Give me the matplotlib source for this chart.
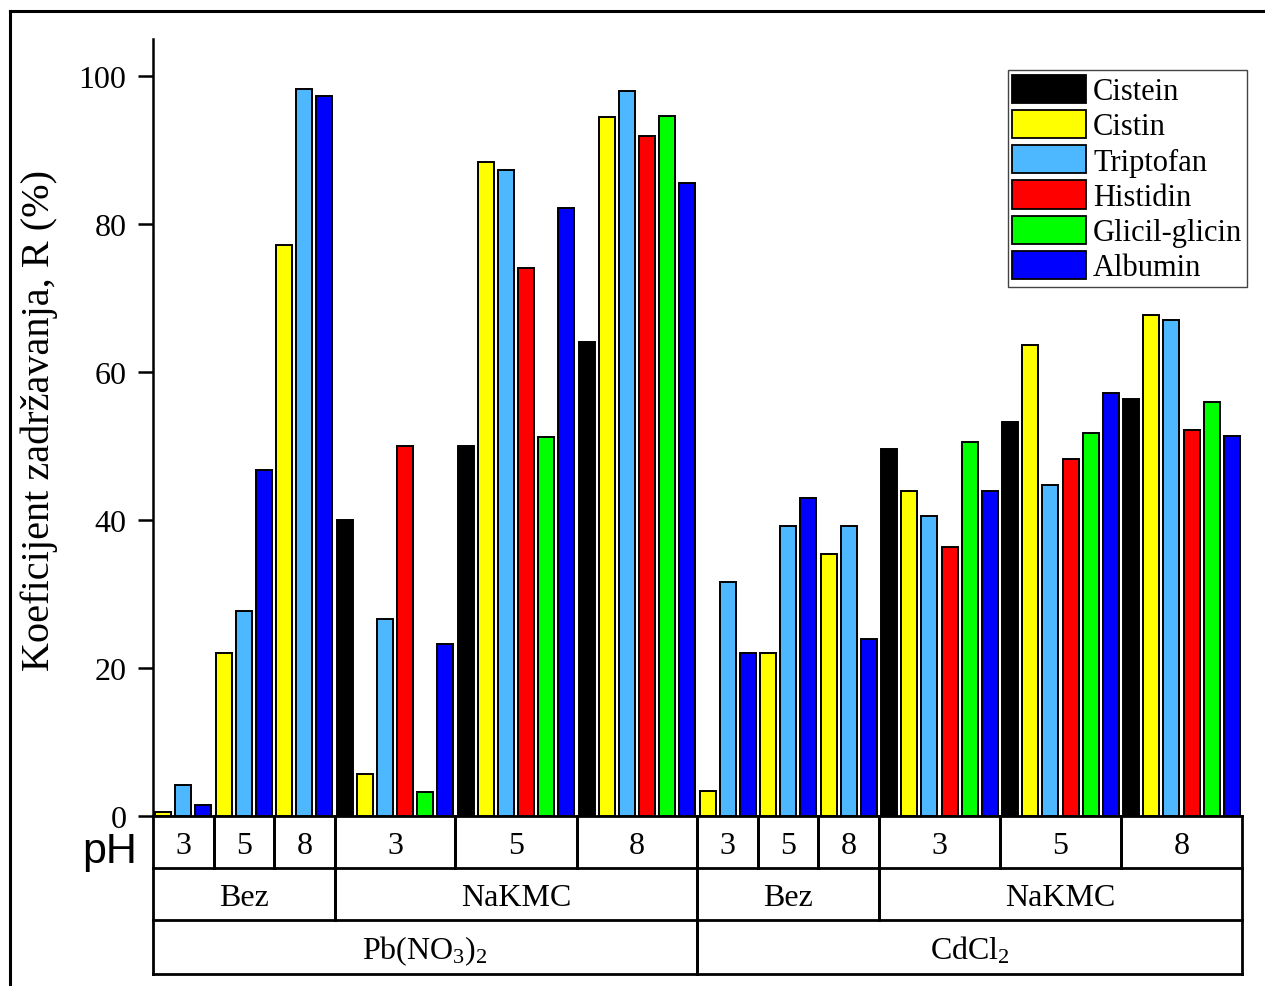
import matplotlib
matplotlib.use('Agg')
import matplotlib.pyplot as plt
from matplotlib.patches import Patch
from matplotlib.lines import Line2D

# --- data ---
series = ['Cistein', 'Cistin', 'Triptofan', 'Histidin', 'Glicil-glicin', 'Albumin']
colors = ['#000000', '#ffff00', '#4db8ff', '#ff0000', '#00ff00', '#0000ff']
bez_series = ['Cistin', 'Triptofan', 'Albumin']

ph_levels = ['3', '5', '8']
additives = ['Bez', 'NaKMC']
salts = [r'Pb(NO$_3$)$_2$', r'CdCl$_2$']

# rows: pH 3, 5, 8
pb_bez = [[0.5, 4.2, 1.5],
          [22.0, 27.7, 46.8],
          [77.2, 98.2, 97.3]]
pb_nakmc = [[40.0, 5.7, 26.6, 50.0, 3.2, 23.3],
            [50.0, 88.4, 87.3, 74.0, 51.2, 82.2],
            [64.1, 94.4, 98.0, 91.9, 94.6, 85.5]]
cd_bez = [[3.4, 31.6, 22.0],
          [22.0, 39.2, 43.0],
          [35.4, 39.2, 23.9]]
cd_nakmc = [[49.6, 43.9, 40.6, 36.4, 50.6, 43.9],
            [53.3, 63.7, 44.7, 48.2, 51.8, 57.1],
            [56.3, 67.7, 67.0, 52.2, 55.9, 51.4]]
blocks = [[pb_bez, pb_nakmc], [cd_bez, cd_nakmc]]

plt.rcParams['font.family'] = 'Liberation Serif'
plt.rcParams['mathtext.default'] = 'regular'

fig = plt.figure(figsize=(12.65, 9.87), dpi=100)
ax = fig.add_axes([153 / 1265, 1 - 817 / 987, 1089 / 1265, 777 / 987])

# --- bars + hierarchy cells ---
x = 0
ph_cells, add_cells, salt_cells = [], [], []
for si, salt in enumerate(salts):
    s0 = x
    for ai, add in enumerate(additives):
        a0 = x
        names = bez_series if add == 'Bez' else series
        vals = blocks[si][ai]
        for pi, ph in enumerate(ph_levels):
            p0 = x
            for name, v in zip(names, vals[pi]):
                ax.bar(x + 0.5, v, width=0.8, color=colors[series.index(name)],
                       edgecolor='black', linewidth=1.4, zorder=3)
                x += 1
            ph_cells.append((p0, x, ph))
        add_cells.append((a0, x, add))
    salt_cells.append((s0, x, salt))
n_slots = x

ax.set_xlim(0, n_slots)
ax.set_ylim(0, 105)
ax.set_xticks([])
ax.set_yticks([0, 20, 40, 60, 80, 100])
ax.tick_params(axis='y', direction='out', length=11, width=1.8, pad=8, labelsize=23)
for s in ['top', 'right', 'bottom']:
    ax.spines[s].set_visible(False)
ax.spines['left'].set_linewidth(1.8)
ax.set_ylabel('Koeficijent zadržavanja, R (%)', fontsize=29, labelpad=9)
ax.yaxis.set_label_coords(-95 / 1089, 0.51)

# --- category table under the axis ---
tr = ax.get_xaxis_transform()
rows = [0, -52 / 777, -104 / 777, -158 / 777]
lw = 2.0
for y in rows:
    ax.add_line(Line2D([0, n_slots], [y, y], transform=tr, color='black', lw=lw,
                       clip_on=False, solid_capstyle='projecting'))
for level, cells in enumerate([ph_cells, add_cells, salt_cells]):
    yt, yb = rows[level], rows[level + 1]
    for a, b, lab in cells:
        for xe in (a, b):
            ax.add_line(Line2D([xe, xe], [yt, yb], transform=tr, color='black', lw=lw,
                               clip_on=False, solid_capstyle='projecting'))
        ax.text((a + b) / 2, (yt + yb) / 2 - 0.004, lab, transform=tr, ha='center', va='center',
                fontsize=23)

fig.text(137 / 1265, 1 - 863 / 987, 'pH', ha='right', va='baseline', fontsize=31,
         family='Liberation Sans')

# --- legend ---
handles = [Patch(facecolor=c, edgecolor='black', linewidth=1.3) for c in colors]
leg = ax.legend(handles, series, loc='upper right', bbox_to_anchor=((1247 - 153) / 1089, (817 - 71) / 777),
                borderaxespad=0, fontsize=22, handlelength=2.4, handleheight=1.05,
                labelspacing=0.12, handletextpad=0.25, borderpad=0.15, fancybox=False,
                framealpha=1)
leg.get_frame().set_edgecolor('#444444')
leg.get_frame().set_linewidth(1.0)

# --- figure frame (cut at right and bottom edge) ---
fig.add_artist(Line2D([10 / 1265, 10 / 1265], [0, 1 - 12 / 987], transform=fig.transFigure,
                      color='black', lw=2.2, solid_capstyle='projecting'))
fig.add_artist(Line2D([10 / 1265, 1], [1 - 12 / 987, 1 - 12 / 987], transform=fig.transFigure,
                      color='black', lw=2.2, solid_capstyle='projecting'))

fig.savefig('out.png', dpi=100)
